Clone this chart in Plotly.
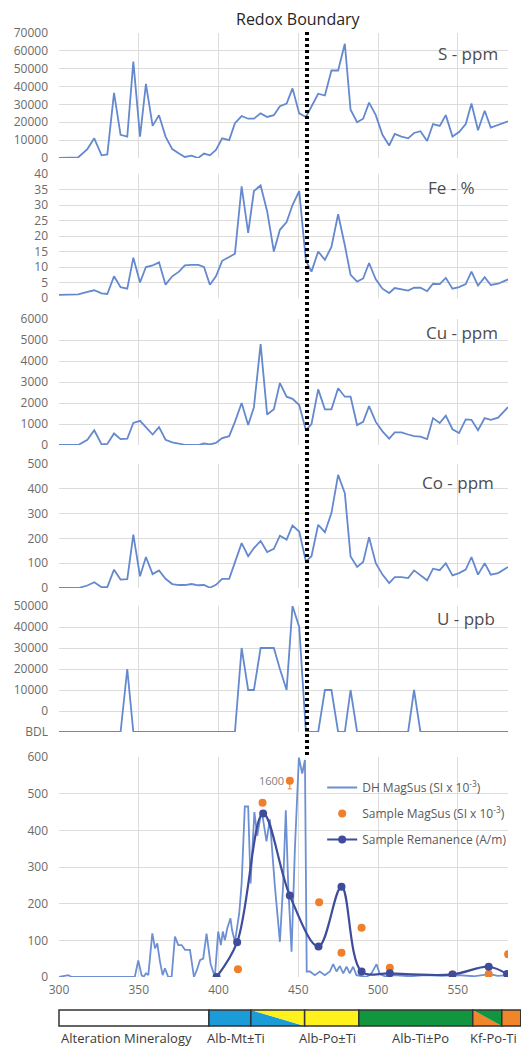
import plotly.graph_objects as go

# ---------------- data ----------------
depth = [300.0, 306.9, 312.1, 317.8, 322.1, 326.7, 330.3, 334.5, 338.6, 342.8,
         346.6, 350.8, 354.5, 358.7, 362.7, 366.8, 371.0, 375.2, 378.9, 383.1,
         387.3, 390.9, 394.6, 398.4, 402.3, 406.7, 410.3, 414.5, 418.6, 422.2,
         426.4, 430.5, 434.7, 438.5, 442.7, 446.4, 450.6, 454.8, 458.3, 462.5,
         466.7, 470.8, 475.0, 479.2, 482.8, 486.9, 490.7, 494.4, 498.6, 502.8,
         507.0, 510.5, 514.7, 518.9, 522.6, 526.6, 530.8, 534.5, 538.7, 542.5,
         546.7, 550.8, 555.0, 558.6, 562.7, 566.9, 570.7, 575.3, 581.5]

S_ppm = [0, 300, 400, 5000, 11000, 1500, 2000, 36500, 13000, 12000,
         54000, 12000, 41500, 18000, 24000, 12000, 5000, 2500, 600, 1300,
         0, 2500, 1500, 4500, 11000, 10000, 19500, 23500, 22000, 22000,
         25000, 23000, 24000, 29000, 30500, 39000, 25000, 23000, 29000, 36000,
         35000, 49000, 49000, 64000, 27000, 20000, 22000, 31000, 24000, 13000,
         7000, 13500, 12000, 11000, 14000, 15000, 9500, 19000, 18000, 24000,
         12000, 14500, 19000, 30500, 15500, 26500, 17000, 18500, 20500]

Fe_pct = [1, 1.2, 1.2, 2, 2.5, 1.5, 1.3, 7, 3.5, 3,
          13, 5, 10, 10.5, 11.5, 4.3, 7, 8.5, 10.5, 10.7,
          10.7, 10, 4.3, 7, 12, 13.2, 14.3, 36, 21, 34.5,
          36.3, 28, 15, 22, 24.5, 30, 34.5, 12, 8.5, 15,
          12.3, 16.5, 27, 17, 7.5, 5.3, 6.3, 11.3, 6, 3,
          1.6, 3.2, 2.7, 2.4, 3.3, 3.3, 2.2, 4.6, 4.5, 6.5,
          3, 3.5, 4.5, 8.5, 4, 6.7, 4.2, 4.6, 6]

Cu_ppm = [0, 0, 0, 250, 700, 30, 50, 550, 280, 300,
          1050, 1150, 850, 500, 850, 250, 130, 60, 10, 0,
          0, 70, 30, 100, 330, 420, 1100, 2000, 950, 1800,
          4800, 1450, 1700, 2950, 2300, 2200, 1900, 700, 1000, 2650,
          1700, 1700, 2700, 2300, 2300, 950, 1100, 1850, 1100, 650,
          300, 600, 600, 500, 420, 400, 280, 1280, 1050, 1400,
          750, 570, 1220, 1200, 700, 1280, 1200, 1300, 1800]

Co_ppm = [0, 0, 0, 10, 23, 3, 4, 74, 34, 36,
          215, 47, 125, 56, 71, 37, 16, 12, 12, 16,
          11, 12, 1, 13, 37, 37, 107, 181, 128, 161,
          190, 145, 158, 211, 195, 252, 228, 107, 128, 255,
          225, 302, 456, 382, 127, 85, 105, 205, 100, 54,
          20, 44, 44, 40, 71, 50, 31, 78, 72, 100,
          51, 60, 74, 125, 54, 100, 54, 60, 85]

BDL = -10000
U_ppb = [BDL, BDL, BDL, BDL, BDL, BDL, BDL, BDL, BDL, 20000,
         BDL, BDL, BDL, BDL, BDL, BDL, BDL, BDL, BDL, BDL,
         BDL, BDL, BDL, BDL, BDL, BDL, BDL, 30000, 10000, 10000,
         30000, 30000, 30000, 20000, 10000, 50000, 40000, BDL, BDL, BDL,
         10000, 10000, BDL, BDL, 10000, BDL, BDL, BDL, BDL, BDL,
         BDL, BDL, BDL, BDL, 10000, BDL, BDL, BDL, BDL, BDL,
         BDL, BDL, BDL, BDL, BDL, BDL, BDL, BDL, BDL]

dh_depth = [300, 302, 304, 305.8, 308, 347.5, 349.7, 351.8, 353, 354.6, 356,
            358.5, 360.2, 361.6, 363.3, 365, 366.4, 368.5, 370.6, 372.7, 374.8,
            376.9, 379, 382.1, 384.6, 386.5, 388.4, 390.4, 392.5, 395, 397.7,
            399.8, 401.5, 402.7, 404, 405.5, 407.5, 408.5, 410.3, 413, 414.5,
            416.5, 418.6, 420.1, 422.5, 424.3, 427, 430.1, 432.2, 435.3, 438.5,
            440.5, 442.2, 443.7, 445.8, 447.9, 450.4, 452.5, 454.2, 455.3, 457.3,
            460.4, 463.5, 466.7, 469.8, 471.9, 474, 476.1, 478.2, 480.3, 482.3,
            484.4, 486.5, 489.7, 492.8, 495.9, 499.1, 501.1, 504.3, 510, 520,
            530, 540, 550, 560, 570, 575, 581.5]
dh_magsus = [0, 2, 4, 5, 0, 0, 45, 5, 0, 10, 5,
             119, 78, 92, 42, 5, 24, 0, 0, 110, 87,
             87, 74, 74, 0, 20, 46, 50, 118, 37, 0,
             124, 87, 124, 100, 133, 160, 128, 96, 174, 255,
             465, 465, 255, 450, 385, 455, 370, 430, 250, 96,
             250, 455, 250, 69, 350, 598, 555, 592, 15, 15,
             5, 15, 5, 15, 35, 15, 30, 10, 28, 10,
             28, 5, 3, 0, 10, 35, 8, 2, 5, 2,
             5, 3, 5, 2, 8, 3, 5]

sample_depth = [412.2, 427.6, 444.7, 463.1, 477.1, 489.7, 507.4, 546.7, 569.4, 581.6]
sample_magsus = [21, 475, 535, 204, 66, 134, 25, 7, 8, 62]   # 535 plotted for off-scale 1600
offscale_err = [0, 0, 22, 0, 0, 0, 0, 0, 0, 0]

rem_depth = [398.8, 411.7, 428.0, 444.7, 462.7, 477.1, 489.7, 507.4, 546.7, 569.4, 580.9]
rem_value = [0, 95, 446, 222, 83, 246, 15, 10, 7, 28, 8]

redox_depth = 455.5

alt_bounds = [300, 394, 420.3, 454, 488, 559.4, 577.6, 589.5]
alt_colors = [("#ffffff", None), ("#1b9bd7", None), ("#1b9bd7", "#fff21c"),
              ("#fff21c", None), ("#12953f", None), ("#f0852a", "#12953f"),
              ("#f0852a", None)]
alt_labels = ["Alteration Mineralogy", "Alb-Mt±Ti", "Alb-Po±Ti", "Alb-Ti±Po", "Kf-Po-Ti"]
alt_label_depth = [300, 411, 468.6, 526.8, 572.6]

panel_titles = ["S - ppm", "Fe - %", "Cu - ppm", "Co - ppm", "U - ppb"]

# ---------------- layout constants ----------------
X0, X1 = 300, 581.5
W, H = 521, 1047
ML, MR, MT, MB = 59, 13, 33, 70
plot_h = H - MT - MB

def py2paper(py):
    return (H - MB - py) / plot_h

def d2paper(d):
    return (d - X0) / (X1 - X0)

line_col = "#6489cf"
grid_col = "#dcdcdc"
tick_col = "#6b6b6b"
FONT = "Open Sans"

domains = [
    [py2paper(158), py2paper(33)],
    [py2paper(298), py2paper(174)],
    [py2paper(445), py2paper(319)],
    [py2paper(588), py2paper(464)],
    [py2paper(732), py2paper(606)],
    [py2paper(977), py2paper(757)],
]

fig = go.Figure()
series = [S_ppm, Fe_pct, Cu_ppm, Co_ppm, U_ppb]
for i, vals in enumerate(series):
    fig.add_trace(go.Scatter(x=depth, y=vals, mode="lines",
                             line=dict(color=line_col, width=1.8),
                             xaxis="x", yaxis="y" + (str(i + 1) if i else ""),
                             showlegend=False, hoverinfo="skip"))

ymag = "y6"
fig.add_trace(go.Scatter(x=dh_depth, y=dh_magsus, mode="lines", name="DH MagSus (SI x 10<sup>-3</sup>)",
                         line=dict(color="#6d8fd3", width=1.8), xaxis="x", yaxis=ymag,
                         legendgroup="a"))
fig.add_trace(go.Scatter(x=sample_depth, y=sample_magsus, mode="markers",
                         name="Sample MagSus (SI x 10<sup>-3</sup>)",
                         marker=dict(color="#f07f2a", size=8),
                         error_y=dict(type="data", symmetric=False, array=[0] * len(offscale_err),
                                      arrayminus=offscale_err, color="#f07f2a", thickness=1, width=2),
                         xaxis="x", yaxis=ymag, legendgroup="b"))
fig.add_trace(go.Scatter(x=rem_depth, y=rem_value, mode="lines+markers",
                         name="Sample Remanence (A/m)",
                         line=dict(color="#3f4c9c", width=2.2, shape="spline", smoothing=1),
                         marker=dict(color="#3f4c9c", size=8),
                         xaxis="x", yaxis=ymag, legendgroup="c"))

tickfont = dict(family=FONT, size=12, color=tick_col)
yaxis_specs = [
    dict(range=[0, 70000], dtick=10000),
    dict(range=[0, 40], dtick=5),
    dict(range=[0, 6000], dtick=1000),
    dict(range=[0, 500], dtick=100),
    dict(range=[-10000, 50000], tickvals=[-10000, 0, 10000, 20000, 30000, 40000, 50000],
         ticktext=["BDL", "0", "10000", "20000", "30000", "40000", "50000"], tickmode="array"),
    dict(range=[0, 600], dtick=100),
]
layout = dict(
    width=W, height=H, margin=dict(l=ML, r=MR, t=MT, b=MB, autoexpand=False),
    paper_bgcolor="white", plot_bgcolor="white",
    font=dict(family=FONT, color="#595959"),
    xaxis=dict(range=[X0, X1], dtick=50, tick0=300, showgrid=True, gridcolor=grid_col,
               zeroline=False, showline=False, anchor="y6", tickfont=tickfont,
               ticks="", ticklabelstandoff=4),
    legend=dict(x=d2paper(465), y=py2paper(773), xanchor="left", yanchor="top",
                font=dict(family=FONT, size=12, color="#595959"),
                bgcolor="rgba(255,255,255,0)", tracegroupgap=7, itemwidth=30),
    showlegend=True,
)
for i, spec in enumerate(yaxis_specs):
    key = "yaxis" + (str(i + 1) if i else "")
    ax = dict(domain=domains[i], anchor="x", showgrid=True, gridcolor=grid_col,
              zeroline=False, showline=False, tickfont=tickfont, ticks="",
              ticklabelstandoff=10, fixedrange=True, tickformat="d")
    ax.update(spec)
    layout[key] = ax
fig.update_layout(**layout)

# redox boundary
fig.add_shape(type="line", xref="x", yref="paper", x0=redox_depth, x1=redox_depth,
              y0=py2paper(755), y1=py2paper(32),
              line=dict(color="black", width=4, dash="3px,3px"))
fig.add_annotation(text="Redox Boundary", xref="x", yref="paper", x=450.4, y=py2paper(19),
                   xanchor="center", yanchor="middle",
                   showarrow=False, font=dict(family=FONT, size=16, color="#262626"))

# panel titles
title_pos = [(500, 53), (477, 187), (500, 332), (496, 482), (497, 618)]
for t, (pxr, pyc) in zip(panel_titles, title_pos):
    fig.add_annotation(text=t, xref="paper", yref="paper", x=(pxr - ML) / (W - ML - MR),
                       y=py2paper(pyc), xanchor="right", yanchor="middle", showarrow=False,
                       font=dict(family=FONT, size=17, color="#4d4d4d"))

# off-scale label
fig.add_annotation(text="1600", xref="x", yref=ymag, x=sample_depth[2] - 2.5, y=sample_magsus[2],
                   xanchor="right", yanchor="middle", showarrow=False,
                   font=dict(family=FONT, size=11, color="#808080"))

# alteration bar
yb0, yb1 = py2paper(1026), py2paper(1010)
for k in range(len(alt_colors)):
    a, b = d2paper(alt_bounds[k]), d2paper(alt_bounds[k + 1])
    c1, c2 = alt_colors[k]
    if c2 is None:
        fig.add_shape(type="rect", xref="paper", yref="paper", x0=a, x1=b, y0=yb0, y1=yb1,
                      fillcolor=c1, line=dict(width=0), layer="above")
    else:
        fig.add_shape(type="path", xref="paper", yref="paper",
                      path=f"M {a} {yb1} L {a} {yb0} L {b} {yb0} Z",
                      fillcolor=c1, line=dict(width=0), layer="above")
        fig.add_shape(type="path", xref="paper", yref="paper",
                      path=f"M {a} {yb1} L {b} {yb1} L {b} {yb0} Z",
                      fillcolor=c2, line=dict(width=0), layer="above")
    fig.add_shape(type="rect", xref="paper", yref="paper", x0=a, x1=b, y0=yb0, y1=yb1,
                  fillcolor="rgba(0,0,0,0)", line=dict(color="#333333", width=1.5), layer="above")

for j, (lab, d) in enumerate(zip(alt_labels, alt_label_depth)):
    fig.add_annotation(text=lab, xref="paper", yref="paper", x=d2paper(d), y=py2paper(1038),
                       xanchor="left" if j == 0 else "center", yanchor="middle", showarrow=False,
                       font=dict(family=FONT, size=13, color="#3a3a3a"))

fig.write_html("out.html")
